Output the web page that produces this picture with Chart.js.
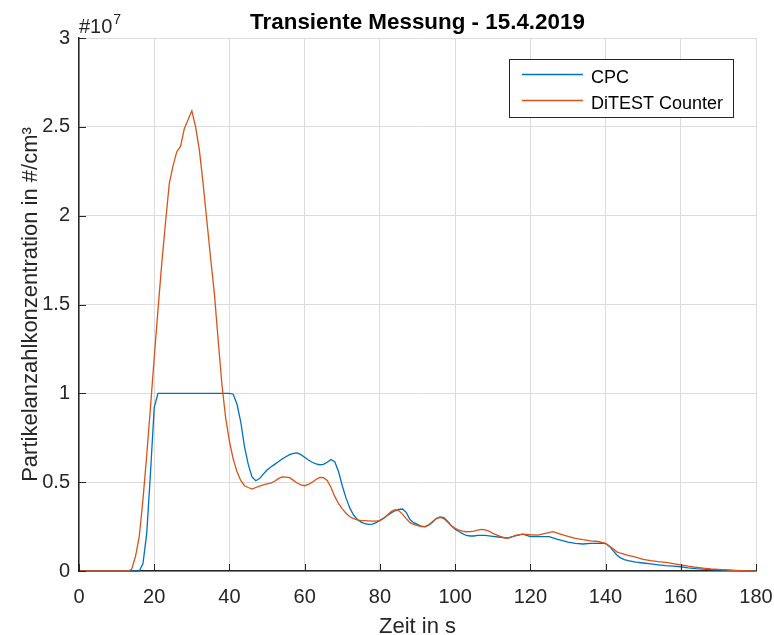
<!DOCTYPE html>
<html>
<head>
<meta charset="utf-8">
<script src="https://cdn.jsdelivr.net/npm/chart.js@4/dist/chart.umd.min.js"></script>
<style>
  html, body { margin: 0; padding: 0; background: #fff; }
  #wrap { width: 774px; height: 635px; }
</style>
</head>
<body>
<div id="wrap"><canvas id="c" width="774" height="635"></canvas></div>
<script>
// Zeitachse und Messwerte (Partikelanzahlkonzentration in 1e7 #/cm³)
const cpcTime = [0, 16, 17, 18, 19, 20, 21, 40, 41, 42, 43, 44, 45, 46, 47, 48, 49, 50, 51, 52, 53, 54, 55, 56, 57, 58, 59, 60, 61, 62, 63, 64, 65, 66, 67, 68, 69, 70, 71, 72, 73, 74, 75, 76, 77, 78, 79, 80, 81, 82, 83, 84, 85, 86, 87, 88, 89, 90, 91, 92, 93, 94, 95, 96, 97, 98, 99, 100, 101, 102, 103, 104, 105, 106, 107, 108, 110, 112, 114, 116, 118, 119, 120, 122, 125, 127, 128, 130, 132, 134, 136, 138, 140, 141, 142, 143, 144, 145, 146, 148, 150, 152, 154, 156, 158, 160, 162, 164, 166, 168, 170, 174, 178, 180];
const cpcValues = [0, 0, 0.04, 0.21, 0.55, 0.92, 1.0, 1.0, 0.995, 0.94, 0.84, 0.70, 0.60, 0.53, 0.508, 0.52, 0.545, 0.568, 0.585, 0.60, 0.615, 0.63, 0.643, 0.655, 0.662, 0.665, 0.655, 0.64, 0.625, 0.612, 0.603, 0.598, 0.60, 0.612, 0.628, 0.615, 0.56, 0.48, 0.41, 0.355, 0.315, 0.29, 0.275, 0.266, 0.262, 0.264, 0.272, 0.285, 0.298, 0.312, 0.327, 0.339, 0.347, 0.349, 0.33, 0.29, 0.272, 0.262, 0.252, 0.249, 0.258, 0.275, 0.295, 0.305, 0.30, 0.28, 0.255, 0.235, 0.222, 0.21, 0.20, 0.197, 0.197, 0.20, 0.201, 0.20, 0.195, 0.19, 0.187, 0.198, 0.207, 0.20, 0.193, 0.193, 0.193, 0.18, 0.174, 0.162, 0.155, 0.152, 0.155, 0.156, 0.155, 0.14, 0.115, 0.09, 0.074, 0.064, 0.058, 0.05, 0.045, 0.04, 0.035, 0.03, 0.027, 0.024, 0.018, 0.013, 0.01, 0.008, 0.006, 0.003, 0.001, 0];

const ditestTime = [0, 13, 14, 15, 16, 17, 18, 19, 20, 21, 22, 23, 24, 25, 26, 27, 28, 29, 30, 31, 32, 33, 34, 35, 36, 37, 38, 39, 40, 41, 42, 43, 44, 45, 46, 47, 48, 49, 50, 51, 52, 53, 54, 55, 56, 57, 58, 59, 60, 61, 62, 63, 64, 65, 66, 67, 68, 69, 70, 71, 72, 73, 74, 75, 76, 77, 78, 79, 80, 81, 82, 83, 84, 85, 86, 87, 88, 89, 90, 91, 92, 93, 94, 95, 96, 97, 98, 99, 100, 101, 102, 103, 104, 105, 106, 107, 108, 109, 110, 112, 113, 114, 115, 116, 118, 120, 122, 124, 126, 128, 130, 132, 134, 136, 138, 140, 141, 142, 143, 144, 146, 148, 150, 152, 154, 156, 158, 160, 162, 164, 166, 168, 170, 174, 178, 180];
const ditestValues = [0, 0, 0.01, 0.08, 0.19, 0.40, 0.65, 0.92, 1.20, 1.47, 1.73, 1.96, 2.18, 2.28, 2.36, 2.39, 2.49, 2.54, 2.59, 2.50, 2.37, 2.18, 1.97, 1.76, 1.56, 1.30, 1.05, 0.86, 0.73, 0.63, 0.56, 0.51, 0.48, 0.47, 0.461, 0.47, 0.478, 0.485, 0.49, 0.495, 0.505, 0.52, 0.53, 0.528, 0.525, 0.51, 0.495, 0.485, 0.48, 0.487, 0.50, 0.515, 0.527, 0.525, 0.51, 0.47, 0.42, 0.38, 0.35, 0.325, 0.305, 0.295, 0.288, 0.284, 0.283, 0.282, 0.281, 0.281, 0.283, 0.295, 0.315, 0.335, 0.345, 0.34, 0.32, 0.295, 0.272, 0.262, 0.255, 0.25, 0.25, 0.26, 0.278, 0.295, 0.302, 0.295, 0.275, 0.255, 0.24, 0.23, 0.224, 0.221, 0.222, 0.225, 0.23, 0.234, 0.232, 0.225, 0.212, 0.195, 0.186, 0.184, 0.19, 0.20, 0.208, 0.204, 0.202, 0.212, 0.221, 0.208, 0.195, 0.183, 0.176, 0.17, 0.166, 0.155, 0.14, 0.125, 0.108, 0.10, 0.088, 0.078, 0.066, 0.058, 0.053, 0.049, 0.042, 0.034, 0.027, 0.021, 0.016, 0.012, 0.009, 0.004, 0.001, 0];

const seriesLabels = ['CPC', 'DiTEST Counter'];
const seriesColors = ['#0072BD', '#D95319'];
const xTicks = [0, 20, 40, 60, 80, 100, 120, 140, 160, 180];
const yTicks = [0, 0.5, 1, 1.5, 2, 2.5, 3];

const titleText = 'Transiente Messung - 15.4.2019';
const xLabel = 'Zeit in s';
const yLabel = 'Partikelanzahlkonzentration in #/cm³';

const FONT = '"Liberation Sans", Arial, Helvetica, sans-serif';
const AXIS_COLOR = '#262626';

function toPoints(xs, ys) {
  return xs.map((x, i) => ({ x: x, y: ys[i] }));
}

// Beschriftungen, Legende und nach innen zeigende Achsenstriche
const decorations = {
  id: 'decorations',
  afterDraw(chart) {
    const ctx = chart.ctx;
    const area = chart.chartArea;
    const xs = chart.scales.x;
    const ys = chart.scales.y;
    ctx.save();

    // Tick-Striche nach innen
    ctx.strokeStyle = AXIS_COLOR;
    ctx.lineWidth = 1;
    ctx.beginPath();
    xTicks.forEach(t => {
      const px = Math.round(xs.getPixelForValue(t)) + 0.5;
      ctx.moveTo(px, area.bottom);
      ctx.lineTo(px, area.bottom - 7);
    });
    yTicks.forEach(t => {
      const py = Math.round(ys.getPixelForValue(t)) + 0.5;
      ctx.moveTo(area.left, py);
      ctx.lineTo(area.left + 7, py);
    });
    ctx.stroke();

    // Titel
    ctx.fillStyle = '#000';
    ctx.font = 'bold 22.4px ' + FONT;
    ctx.textAlign = 'center';
    ctx.textBaseline = 'alphabetic';
    ctx.fillText(titleText, (area.left + area.right) / 2, 29);

    // Achsenbeschriftungen
    ctx.fillStyle = AXIS_COLOR;
    ctx.font = '22px ' + FONT;
    ctx.fillText(xLabel, (area.left + area.right) / 2, 633);

    ctx.save();
    ctx.translate(36.5, (area.top + area.bottom) / 2);
    ctx.rotate(-Math.PI / 2);
    ctx.fillText(yLabel, 0, 0);
    ctx.restore();

    // Exponent der y-Achse
    ctx.textAlign = 'left';
    ctx.font = '20px ' + FONT;
    ctx.fillText('#10', 79, 33);
    const w = ctx.measureText('#10').width;
    ctx.font = '14px ' + FONT;
    ctx.fillText('7', 79 + w + 1, 24);

    // Legende
    const box = { x: 509.5, y: 59.5, w: 224, h: 58 };
    ctx.fillStyle = '#fff';
    ctx.fillRect(box.x, box.y, box.w, box.h);
    ctx.strokeStyle = AXIS_COLOR;
    ctx.lineWidth = 1;
    ctx.strokeRect(box.x, box.y, box.w, box.h);
    const rows = [74.5, 100.5];
    chart.data.datasets.forEach((ds, i) => {
      ctx.strokeStyle = ds.borderColor;
      ctx.lineWidth = 1.3;
      ctx.beginPath();
      ctx.moveTo(522, rows[i]);
      ctx.lineTo(583, rows[i]);
      ctx.stroke();
      ctx.fillStyle = '#000';
      ctx.font = '18px ' + FONT;
      ctx.textAlign = 'left';
      ctx.textBaseline = 'alphabetic';
      ctx.fillText(ds.label, 591, rows[i] + 8);
    });

    ctx.restore();
  }
};

new Chart(document.getElementById('c'), {
  type: 'line',
  data: {
    datasets: [
      {
        label: seriesLabels[0],
        data: toPoints(cpcTime, cpcValues),
        borderColor: seriesColors[0],
        order: 1
      },
      {
        label: seriesLabels[1],
        data: toPoints(ditestTime, ditestValues),
        borderColor: seriesColors[1],
        order: 0
      }
    ]
  },
  options: {
    responsive: false,
    animation: false,
    events: [],
    parsing: false,
    layout: { padding: { left: 0, top: 38, right: 18, bottom: 0 } },
    elements: {
      point: { radius: 0 },
      line: { borderWidth: 1.3, tension: 0, fill: false }
    },
    datasets: { line: { clip: 4 } },
    plugins: {
      legend: { display: false },
      title: { display: false },
      tooltip: { enabled: false }
    },
    scales: {
      x: {
        type: 'linear',
        min: 0,
        max: 180,
        afterFit(s) { s.height = 64; s.paddingLeft = 0; s.paddingRight = 0; },
        afterBuildTicks(s) { s.ticks = xTicks.map(v => ({ value: v })); },
        grid: { color: '#dcdcdc', drawTicks: false, lineWidth: 1 },
        border: { display: true, color: AXIS_COLOR, width: 1.5 },
        ticks: { color: AXIS_COLOR, font: { family: FONT, size: 20 }, padding: 14, maxRotation: 0, autoSkip: false,
                 callback: v => String(v) }
      },
      y: {
        type: 'linear',
        min: 0,
        max: 3,
        afterFit(s) { s.width = 79; s.paddingTop = 0; s.paddingBottom = 0; },
        afterBuildTicks(s) { s.ticks = yTicks.map(v => ({ value: v })); },
        grid: { color: '#dcdcdc', drawTicks: false, lineWidth: 1 },
        border: { display: true, color: AXIS_COLOR, width: 1.5 },
        ticks: { color: AXIS_COLOR, font: { family: FONT, size: 20 }, padding: 9, autoSkip: false,
                 callback: v => String(v) }
      }
    }
  },
  plugins: [decorations]
});
</script>
</body>
</html>
